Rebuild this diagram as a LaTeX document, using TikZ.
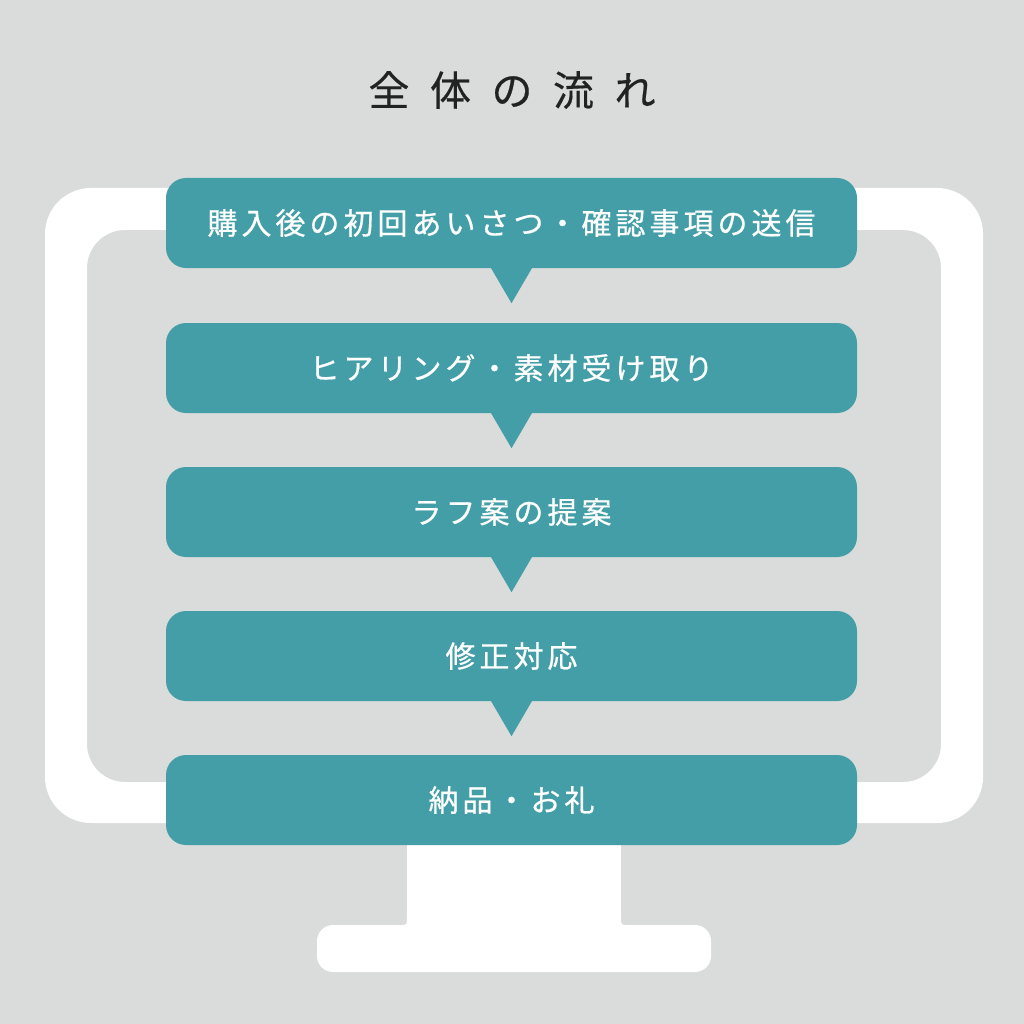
\documentclass[tikz,border=0pt]{standalone}
\usepackage{fontspec}
\setmainfont{Noto Sans CJK JP}
\newfontfamily\boxfont[FakeBold=0.6]{Noto Sans CJK JP}
\newfontfamily\titlefont[FakeBold=0.4]{Noto Sans CJK JP}
\usetikzlibrary{calc}
\definecolor{bgc}{HTML}{D9DCDB}
\definecolor{tealc}{HTML}{449EA7}
\definecolor{titlec}{HTML}{222222}
\newcommand\tracked[2]{\def\trk{#1}\trkfirst#2\relax}
\def\trkfirst#1{#1\trknext}
\def\trknext#1{\ifx#1\relax\else\kern\trk#1\expandafter\trknext\fi}
\tikzset{
  stepbox/.style={fill=tealc, rounded corners=20pt, minimum width=691pt, minimum height=90pt,
    inner sep=0pt, text=white, font=\boxfont\fontsize{30pt}{36pt}\selectfont},
  arrowtri/.style={fill=tealc},
  monitor/.style={fill=white}
}
\begin{document}
\begin{tikzpicture}[x=1pt,y=-1pt]
\fill[bgc] (0,0) rectangle (1024,1024);
\useasboundingbox (0,0) rectangle (1024,1024);
% monitor frame
\fill[monitor, even odd rule] [rounded corners=46pt] (45,188) rectangle (983,823)
  [rounded corners=38pt] (87,230) rectangle (941,782);
% stand neck
\fill[monitor] (407,800) rectangle (621,930);
\fill[monitor] (400,925) .. controls (407,925) .. (407,918) -- (407,926) -- cycle;
\fill[monitor] (628,925) .. controls (621,925) .. (621,918) -- (621,926) -- cycle;
% stand base
\fill[monitor, rounded corners=16pt] (317,925) rectangle (711,972);
% title
\node[text=titlec, font=\titlefont\fontsize{41pt}{48pt}\selectfont, inner sep=0pt] (title) at (512,90) {\tracked{20.5pt}{全体の流れ}};
% steps
\node[stepbox] (b1) at (511.5,223) {\tracked{4pt}{購入後の初回あいさつ・確認事項の送信}};
\node[stepbox] (b2) at (511.5,368) {\tracked{4pt}{ヒアリング・素材受け取り}};
\node[stepbox] (b3) at (511.5,512) {\tracked{4pt}{ラフ案の提案}};
\node[stepbox] (b4) at (511.5,656) {\tracked{4pt}{修正対応}};
\node[stepbox] (b5) at (511.5,800) {\tracked{4pt}{納品・お礼}};
% connectors (triangles)
\foreach \a in {1,2,3,4}{
  \coordinate (t\a) at ($(b\a.south)+(0,35)$);
  \fill[arrowtri] ([xshift=-21pt,yshift=1pt]b\a.south) -- (t\a) -- ([xshift=21pt,yshift=1pt]b\a.south) -- cycle;
}
\end{tikzpicture}
\end{document}
